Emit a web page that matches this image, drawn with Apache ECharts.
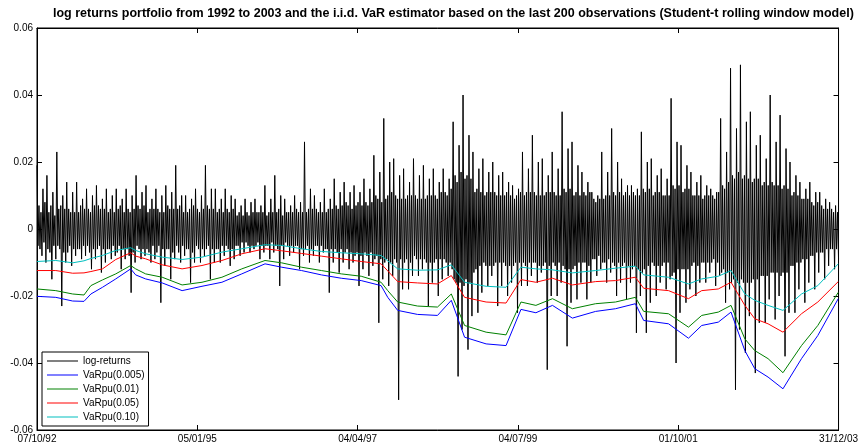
<!DOCTYPE html>
<html>
<head>
<meta charset="utf-8">
<script src="https://cdn.jsdelivr.net/npm/echarts@6/dist/echarts.min.js"></script>
<style>
  html, body { margin: 0; padding: 0; background: #fff; }
  #chart { width: 861px; height: 448px; }
</style>
</head>
<body>
<div id="chart"></div>
<script>
// x axis: trading days 07/10/92 .. 31/12/03
const nDays = 2900;
const xLabels = ["07/10/92", "05/01/95", "04/04/97", "04/07/99", "01/10/01", "31/12/03"];

// daily log-returns (10 values per 10 px of plot)
const logReturns = [
  0.019, -0.005, 0.007, -0.006, 0.005, -0.008, 0.012, -0.004, 0.008, -0.010,
  0.016, -0.006, 0.005, -0.007, 0.007, -0.015, 0.011, -0.005, 0.004, -0.009,
  0.023, -0.005, 0.006, -0.006, 0.007, -0.023, 0.010, -0.007, 0.006, -0.010,
  0.014, -0.007, 0.006, -0.005, 0.005, -0.011, 0.011, -0.006, 0.005, -0.008,
  0.014, -0.006, 0.005, -0.006, 0.007, -0.009, 0.009, -0.005, 0.006, -0.008,
  0.012, -0.005, 0.006, -0.007, 0.005, -0.012, 0.010, -0.006, 0.007, -0.009,
  0.013, -0.006, 0.007, -0.005, 0.006, -0.013, 0.009, -0.006, 0.006, -0.010,
  0.012, -0.006, 0.005, -0.006, 0.006, -0.009, 0.010, -0.005, 0.005, -0.008,
  0.012, -0.007, 0.006, -0.005, 0.007, -0.012, 0.009, -0.006, 0.005, -0.009,
  0.012, -0.006, 0.006, -0.008, 0.005, -0.019, 0.010, -0.007, 0.006, -0.010,
  0.016, -0.005, 0.007, -0.006, 0.006, -0.009, 0.011, -0.006, 0.007, -0.008,
  0.013, -0.006, 0.005, -0.007, 0.006, -0.010, 0.009, -0.005, 0.006, -0.009,
  0.012, -0.007, 0.006, -0.005, 0.005, -0.022, 0.010, -0.006, 0.005, -0.011,
  0.013, -0.006, 0.007, -0.006, 0.006, -0.015, 0.011, -0.007, 0.006, -0.009,
  0.019, -0.005, 0.006, -0.007, 0.007, -0.010, 0.010, -0.005, 0.005, -0.008,
  0.010, -0.006, 0.005, -0.006, 0.006, -0.016, 0.009, -0.007, 0.007, -0.010,
  0.012, -0.005, 0.006, -0.006, 0.005, -0.010, 0.010, -0.006, 0.006, -0.008,
  0.019, -0.006, 0.007, -0.005, 0.006, -0.015, 0.012, -0.006, 0.006, -0.010,
  0.012, -0.006, 0.005, -0.006, 0.006, -0.010, 0.009, -0.005, 0.005, -0.008,
  0.012, -0.005, 0.006, -0.006, 0.005, -0.011, 0.010, -0.006, 0.006, -0.009,
  0.009, -0.005, 0.004, -0.005, 0.005, -0.008, 0.007, -0.004, 0.004, -0.007,
  0.009, -0.004, 0.005, -0.005, 0.004, -0.007, 0.008, -0.005, 0.005, -0.006,
  0.009, -0.005, 0.005, -0.004, 0.005, -0.009, 0.007, -0.005, 0.005, -0.007,
  0.013, -0.005, 0.004, -0.005, 0.005, -0.009, 0.009, -0.004, 0.005, -0.007,
  0.016, -0.005, 0.005, -0.006, 0.006, -0.017, 0.010, -0.005, 0.004, -0.009,
  0.009, -0.004, 0.005, -0.005, 0.005, -0.008, 0.007, -0.005, 0.005, -0.007,
  0.010, -0.005, 0.006, -0.005, 0.005, -0.012, 0.008, -0.006, 0.005, -0.008,
  0.026, -0.006, 0.005, -0.005, 0.006, -0.010, 0.012, -0.006, 0.006, -0.008,
  0.010, -0.005, 0.006, -0.005, 0.005, -0.010, 0.008, -0.005, 0.005, -0.007,
  0.012, -0.006, 0.005, -0.006, 0.006, -0.019, 0.009, -0.006, 0.006, -0.010,
  0.015, -0.006, 0.007, -0.007, 0.006, -0.013, 0.011, -0.006, 0.007, -0.010,
  0.014, -0.007, 0.008, -0.006, 0.007, -0.012, 0.011, -0.007, 0.006, -0.010,
  0.013, -0.008, 0.007, -0.007, 0.008, -0.017, 0.011, -0.008, 0.007, -0.012,
  0.015, -0.007, 0.008, -0.008, 0.007, -0.014, 0.012, -0.007, 0.008, -0.011,
  0.022, -0.009, 0.010, -0.008, 0.009, -0.028, 0.017, -0.009, 0.008, -0.015,
  0.033, -0.010, 0.009, -0.009, 0.010, -0.017, 0.020, -0.010, 0.011, -0.014,
  0.021, -0.009, 0.010, -0.010, 0.009, -0.051, 0.016, -0.009, 0.009, -0.018,
  0.018, -0.010, 0.009, -0.009, 0.010, -0.018, 0.014, -0.010, 0.010, -0.014,
  0.021, -0.008, 0.010, -0.009, 0.009, -0.014, 0.016, -0.009, 0.009, -0.012,
  0.019, -0.009, 0.009, -0.010, 0.010, -0.023, 0.015, -0.010, 0.010, -0.016,
  0.018, -0.010, 0.010, -0.009, 0.009, -0.020, 0.014, -0.009, 0.011, -0.015,
  0.018, -0.009, 0.011, -0.010, 0.010, -0.014, 0.015, -0.010, 0.012, -0.012,
  0.032, -0.015, 0.016, -0.016, 0.014, -0.044, 0.025, -0.016, 0.017, -0.030,
  0.040, -0.017, 0.015, -0.015, 0.016, -0.036, 0.028, -0.016, 0.015, -0.026,
  0.023, -0.013, 0.011, -0.012, 0.012, -0.025, 0.018, -0.011, 0.011, -0.019,
  0.021, -0.010, 0.010, -0.011, 0.011, -0.017, 0.017, -0.011, 0.011, -0.014,
  0.020, -0.011, 0.011, -0.010, 0.010, -0.023, 0.016, -0.010, 0.010, -0.017,
  0.017, -0.010, 0.010, -0.011, 0.011, -0.020, 0.014, -0.011, 0.010, -0.016,
  0.013, -0.011, 0.009, -0.010, 0.010, -0.025, 0.012, -0.010, 0.011, -0.017,
  0.023, -0.010, 0.010, -0.011, 0.011, -0.017, 0.018, -0.010, 0.011, -0.014,
  0.028, -0.010, 0.011, -0.010, 0.010, -0.016, 0.020, -0.011, 0.010, -0.013,
  0.021, -0.011, 0.010, -0.010, 0.011, -0.042, 0.016, -0.011, 0.011, -0.020,
  0.023, -0.010, 0.011, -0.011, 0.010, -0.020, 0.018, -0.010, 0.010, -0.016,
  0.035, -0.011, 0.012, -0.012, 0.011, -0.035, 0.024, -0.012, 0.012, -0.022,
  0.026, -0.012, 0.010, -0.011, 0.011, -0.021, 0.019, -0.010, 0.010, -0.016,
  0.017, -0.010, 0.011, -0.010, 0.010, -0.021, 0.014, -0.011, 0.011, -0.016,
  0.011, -0.009, 0.009, -0.009, 0.008, -0.014, 0.010, -0.008, 0.009, -0.012,
  0.023, -0.010, 0.009, -0.010, 0.010, -0.016, 0.017, -0.009, 0.010, -0.013,
  0.030, -0.010, 0.011, -0.011, 0.010, -0.020, 0.020, -0.010, 0.011, -0.016,
  0.015, -0.011, 0.010, -0.010, 0.011, -0.021, 0.013, -0.011, 0.010, -0.016,
  0.013, -0.012, 0.011, -0.011, 0.010, -0.031, 0.012, -0.012, 0.010, -0.020,
  0.029, -0.013, 0.012, -0.012, 0.011, -0.031, 0.020, -0.011, 0.012, -0.022,
  0.021, -0.010, 0.010, -0.011, 0.011, -0.020, 0.016, -0.011, 0.011, -0.016,
  0.018, -0.011, 0.010, -0.010, 0.010, -0.018, 0.015, -0.010, 0.010, -0.015,
  0.039, -0.014, 0.013, -0.013, 0.012, -0.040, 0.026, -0.012, 0.013, -0.025,
  0.025, -0.012, 0.011, -0.012, 0.012, -0.022, 0.019, -0.012, 0.012, -0.018,
  0.017, -0.011, 0.010, -0.010, 0.010, -0.020, 0.014, -0.011, 0.010, -0.016,
  0.016, -0.010, 0.009, -0.010, 0.010, -0.016, 0.013, -0.010, 0.010, -0.013,
  0.012, -0.010, 0.010, -0.009, 0.009, -0.017, 0.011, -0.010, 0.011, -0.014,
  0.033, -0.013, 0.013, -0.012, 0.012, -0.022, 0.023, -0.013, 0.014, -0.018,
  0.048, -0.016, 0.016, -0.015, 0.015, -0.048, 0.030, -0.016, 0.017, -0.030,
  0.049, -0.015, 0.015, -0.016, 0.016, -0.037, 0.032, -0.016, 0.015, -0.026,
  0.035, -0.016, 0.014, -0.015, 0.015, -0.043, 0.025, -0.015, 0.015, -0.028,
  0.028, -0.014, 0.013, -0.014, 0.014, -0.028, 0.021, -0.014, 0.013, -0.021,
  0.040, -0.013, 0.014, -0.013, 0.013, -0.027, 0.026, -0.013, 0.013, -0.020,
  0.034, -0.014, 0.012, -0.013, 0.013, -0.038, 0.024, -0.013, 0.012, -0.025,
  0.020, -0.011, 0.010, -0.011, 0.011, -0.025, 0.016, -0.010, 0.010, -0.018,
  0.014, -0.010, 0.009, -0.009, 0.009, -0.022, 0.012, -0.009, 0.009, -0.016,
  0.014, -0.008, 0.008, -0.008, 0.007, -0.018, 0.011, -0.007, 0.008, -0.013,
  0.011, -0.007, 0.007, -0.007, 0.006, -0.015, 0.009, -0.006, 0.006, -0.011,
  0.008, -0.006, 0.006, -0.006, 0.005, -0.012, 0.007, -0.006, 0.005, -0.009
];

// VaR estimators, read at these trading days
const varDay = [
  0, 68, 129, 170, 195, 237, 285, 339, 357, 393, 453, 525, 597, 669, 741, 825, 885,
  957, 1029, 1101, 1173, 1245, 1269, 1305, 1377, 1449,
  1499, 1547, 1625, 1697, 1751, 1805, 1865, 1937, 2021, 2093, 2165, 2195, 2285,
  2357, 2405, 2465, 2511, 2561, 2597, 2645, 2699, 2766, 2825, 2899
];
const var005 = [
  -0.0201, -0.0204, -0.0215, -0.0216, -0.0194, -0.0174, -0.0149, -0.0119, -0.0137, -0.0149,
  -0.0161, -0.0184, -0.0171, -0.0159, -0.0134, -0.0104, -0.0114, -0.0124, -0.0137, -0.0147,
  -0.0154, -0.0169, -0.0204, -0.0243, -0.0255, -0.0258,
  -0.0213, -0.0323, -0.0343, -0.0348, -0.0240, -0.0250, -0.0228, -0.0266, -0.0246, -0.0238,
  -0.0223, -0.0273, -0.0283, -0.0326, -0.0288, -0.0278, -0.0248, -0.0363, -0.0417, -0.0442,
  -0.0477, -0.0387, -0.0318, -0.0208
];
const var001 = [
  -0.0179, -0.0184, -0.0194, -0.0197, -0.0169, -0.0152, -0.0134, -0.0109, -0.0119, -0.0134,
  -0.0144, -0.0167, -0.0159, -0.0144, -0.0119, -0.0094, -0.0101, -0.0114, -0.0124, -0.0134,
  -0.0141, -0.0159, -0.0184, -0.0218, -0.0230, -0.0233,
  -0.0194, -0.0288, -0.0308, -0.0316, -0.0218, -0.0228, -0.0208, -0.0238, -0.0223, -0.0218,
  -0.0204, -0.0246, -0.0253, -0.0293, -0.0258, -0.0248, -0.0228, -0.0328, -0.0363, -0.0387,
  -0.0429, -0.0348, -0.0288, -0.0189
];
const var05 = [
  -0.0124, -0.0124, -0.0132, -0.0131, -0.0127, -0.0119, -0.0091, -0.0071, -0.0081, -0.0089,
  -0.0107, -0.0119, -0.0109, -0.0094, -0.0074, -0.0059, -0.0065, -0.0073, -0.0081, -0.0089,
  -0.0097, -0.0104, -0.0125, -0.0157, -0.0161, -0.0164,
  -0.0139, -0.0204, -0.0218, -0.0221, -0.0151, -0.0159, -0.0147, -0.0167, -0.0157, -0.0154,
  -0.0144, -0.0177, -0.0184, -0.0208, -0.0184, -0.0179, -0.0159, -0.0228, -0.0268, -0.0283,
  -0.0308, -0.0253, -0.0218, -0.0157
];
const var10 = [
  -0.0097, -0.0094, -0.0101, -0.0095, -0.0088, -0.0079, -0.0064, -0.0056, -0.0064, -0.0074,
  -0.0084, -0.0091, -0.0084, -0.0069, -0.0059, -0.0047, -0.0049, -0.0059, -0.0067, -0.0071,
  -0.0074, -0.0079, -0.0095, -0.0119, -0.0123, -0.0122,
  -0.0107, -0.0159, -0.0171, -0.0174, -0.0114, -0.0119, -0.0122, -0.0131, -0.0124, -0.0117,
  -0.0111, -0.0137, -0.0144, -0.0164, -0.0149, -0.0141, -0.0124, -0.0194, -0.0213, -0.0228,
  -0.0243, -0.0194, -0.0169, -0.0104
];

const font = "'Liberation Sans', Arial, sans-serif";
const tickStep = nDays / (xLabels.length - 1);

let chart = echarts.init(document.getElementById("chart"));

const returnPts = logReturns.map((v, i) => [i * nDays / (logReturns.length - 1), v]);
const varPts = (arr) => arr.map((v, i) => [varDay[i], v]);

const lineSeries = (name, data, color) => ({
  name: name,
  type: "line",
  data: data,
  showSymbol: false,
  symbol: "none",
  color: color,
  lineStyle: { width: 1, color: color },
  xAxisIndex: 0,
  yAxisIndex: 0,
});

// box axes: labels only on the bottom/left, ticks inside on all four sides
const xBase = {
  type: "value", min: 0, max: nDays, interval: tickStep,
  axisLine: { show: true, onZero: false, lineStyle: { color: "#000", width: 1 } },
  axisTick: { inside: true, length: 5, lineStyle: { color: "#000" } },
  splitLine: { show: false },
};
const yBase = {
  type: "value", min: -0.06, max: 0.06, interval: 0.02,
  axisLine: { show: true, onZero: false, lineStyle: { color: "#000", width: 1 } },
  axisTick: { inside: true, length: 5, lineStyle: { color: "#000" } },
  splitLine: { show: false },
};

chart.setOption({
  animation: false,
  backgroundColor: "#fff",
  title: {
    text: "log returns portfolio from 1992 to 2003 and the i.i.d. VaR estimator based on the last 200 observations (Student-t rolling window model)",
    left: 53,
    top: 7,
    padding: 0,
    textStyle: { fontSize: 12.5, fontWeight: "bold", color: "#000", fontFamily: font },
  },
  grid: { left: 37, right: 19, top: 28, bottom: 18, show: true, borderColor: "#000", borderWidth: 1 },
  legend: {
    orient: "vertical",
    left: 42,
    top: 352,
    backgroundColor: "#fff",
    borderColor: "#000",
    borderWidth: 1,
    padding: [4, 4, 4, 5],
    icon: "rect",
    itemWidth: 31,
    itemHeight: 1,
    itemGap: 4,
    textStyle: { fontSize: 10, color: "#000", fontFamily: font },
    data: ["log-returns", "VaRpu(0.005)", "VaRpu(0.01)", "VaRpu(0.05)", "VaRpu(0.10)"],
  },
  xAxis: [
    Object.assign({}, xBase, {
      position: "bottom",
      axisLabel: {
        formatter: (v) => xLabels[Math.round(v / tickStep)],
        fontSize: 10, color: "#000", fontFamily: font, margin: 4,
        showMinLabel: true, showMaxLabel: true,
      },
    }),
    Object.assign({}, xBase, { position: "top", axisLabel: { show: false } }),
  ],
  yAxis: [
    Object.assign({}, yBase, {
      position: "left",
      axisLabel: {
        formatter: (v) => (Math.abs(v) < 1e-9 ? "0" : v.toFixed(2)),
        fontSize: 10, color: "#000", fontFamily: font, margin: 4,
      },
    }),
    Object.assign({}, yBase, { position: "right", axisLabel: { show: false } }),
  ],
  series: [
    lineSeries("log-returns", returnPts, "#000000"),
    lineSeries("VaRpu(0.005)", varPts(var005), "#0000ff"),
    lineSeries("VaRpu(0.01)", varPts(var001), "#008000"),
    lineSeries("VaRpu(0.05)", varPts(var05), "#ff0000"),
    lineSeries("VaRpu(0.10)", varPts(var10), "#00bfbf"),
  ],
});
</script>
</body>
</html>
